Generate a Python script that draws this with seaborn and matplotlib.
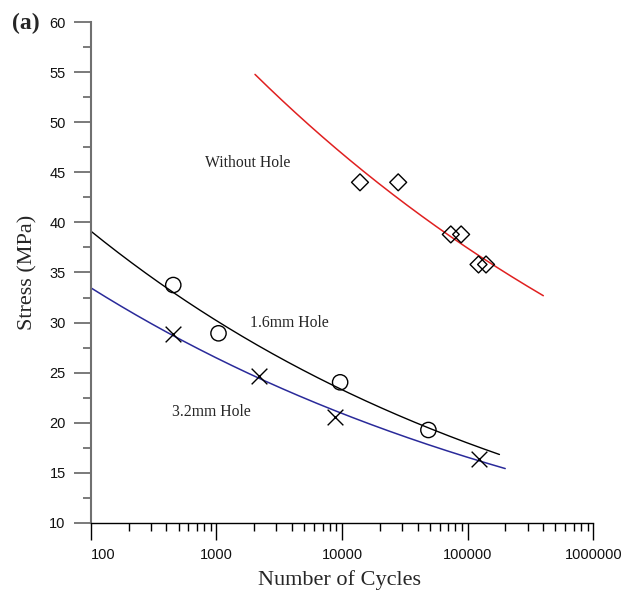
import numpy as np
import pandas as pd
import matplotlib
matplotlib.use("Agg")
import matplotlib.pyplot as plt
import seaborn as sns
from matplotlib.ticker import FixedLocator, LogLocator, NullFormatter, FixedFormatter

# Fatigue test results: cycles to failure and applied stress (MPa)
without_hole_cycles = [13900, 28000, 73400, 88700, 122000, 140000]
without_hole_stress = [44.0, 44.0, 38.8, 38.8, 35.8, 35.8]

hole16_cycles = [454, 1040, 9660, 48700]
hole16_stress = [33.75, 28.93, 24.04, 19.28]

hole32_cycles = [454, 2190, 8810, 124000]
hole32_stress = [28.86, 24.7, 20.61, 16.39]

# Span of cycles covered by each fitted S-N curve
without_hole_span = (2030, 400000)
hole16_span = (100, 179000)
hole32_span = (100, 199000)

x_ticks = [100, 1000, 10000, 100000, 1000000]
x_tick_labels = ["100", "1000", "10000", "100000", "1000000"]
y_ticks = [10, 15, 20, 25, 30, 35, 40, 45, 50, 55, 60]

sns.set_style("ticks")
plt.rcParams["font.family"] = ["Liberation Serif", "DejaVu Serif"]

fig = plt.figure(figsize=(6.26, 5.92), dpi=100)
ax = fig.add_axes([0.1449, 0.1166, 0.8029, 0.8462])
ax.set_xscale("log")


def power_fit(cycles, stress, span):
    """Basquin-type fit S = a * N^b, evaluated over the given span."""
    b, loga = np.polyfit(np.log10(cycles), np.log10(stress), 1)
    n = np.geomspace(span[0], span[1], 300)
    return pd.DataFrame({"N": n, "S": 10 ** loga * n ** b})


fit_wo = power_fit(without_hole_cycles, without_hole_stress, without_hole_span)
fit_16 = power_fit(hole16_cycles, hole16_stress, hole16_span)
fit_32 = power_fit(hole32_cycles, hole32_stress, hole32_span)

sns.lineplot(data=fit_wo, x="N", y="S", color="#e02020", lw=1.1, ax=ax)
sns.lineplot(data=fit_16, x="N", y="S", color="black", lw=1.0, ax=ax)
sns.lineplot(data=fit_32, x="N", y="S", color="#2a2a9a", lw=1.1, ax=ax)

sns.scatterplot(x=without_hole_cycles, y=without_hole_stress, marker="D", s=74,
                facecolor="none", edgecolor="black", linewidth=1.0, ax=ax, zorder=3)
sns.scatterplot(x=hole16_cycles, y=hole16_stress, marker="o", s=121,
                facecolor="none", edgecolor="black", linewidth=1.0, ax=ax, zorder=3)
sns.scatterplot(x=hole32_cycles, y=hole32_stress, marker="x", s=128,
                color="black", linewidth=1.0, ax=ax, zorder=3)

ax.set_xlim(100, 1000000)
ax.set_ylim(10, 60)

# Spines
for side in ("top", "right"):
    ax.spines[side].set_visible(False)
ax.spines["left"].set_color("#707070")
ax.spines["left"].set_linewidth(1.5)
ax.spines["bottom"].set_color("black")
ax.spines["bottom"].set_linewidth(1.0)

# Ticks
ax.xaxis.set_major_locator(FixedLocator(x_ticks))
ax.xaxis.set_major_formatter(FixedFormatter(x_tick_labels))
ax.xaxis.set_minor_locator(LogLocator(base=10, subs=np.arange(2, 10), numticks=20))
ax.xaxis.set_minor_formatter(NullFormatter())
ax.yaxis.set_major_locator(FixedLocator(y_ticks))
ax.yaxis.set_minor_locator(FixedLocator([t + 2.5 for t in y_ticks[:-1]]))

ax.tick_params(axis="x", which="major", direction="out", length=12, width=1.0,
               color="black", pad=6, labelsize=10.5, labelcolor="#111111")
ax.tick_params(axis="x", which="minor", direction="out", length=6, width=1.0, color="black")
ax.tick_params(axis="y", which="major", direction="out", length=12, width=1.3,
               color="#707070", pad=6, labelsize=10.5, labelcolor="#111111")
ax.tick_params(axis="y", which="minor", direction="out", length=6, width=1.3, color="#707070")
for lab in ax.get_xticklabels() + ax.get_yticklabels():
    lab.set_fontfamily(["Liberation Sans", "DejaVu Sans"])
ax.get_xticklabels()[0].set_horizontalalignment("left")

# Axis titles
ax.set_xlabel("Number of Cycles", fontsize=16)
ax.set_ylabel("Stress (MPa)", fontsize=16)
ax.xaxis.set_label_coords(0.495, -0.114)
ax.xaxis.label.set_verticalalignment("center")
ax.yaxis.set_label_coords(-0.126, 0.50)
ax.yaxis.label.set_verticalalignment("center")

# Curve annotations
ax.text(813, 45.96, "Without Hole", fontsize=11.3, ha="left", va="center")
ax.text(1854, 29.93, "1.6mm Hole", fontsize=11.3, ha="left", va="center")
ax.text(441, 21.1, "3.2mm Hole", fontsize=11.3, ha="left", va="center")

fig.text(0.0187, 0.9606, "(a)", fontsize=17, fontweight="bold", ha="left", va="center")

fig.savefig("out.png", dpi=100)
